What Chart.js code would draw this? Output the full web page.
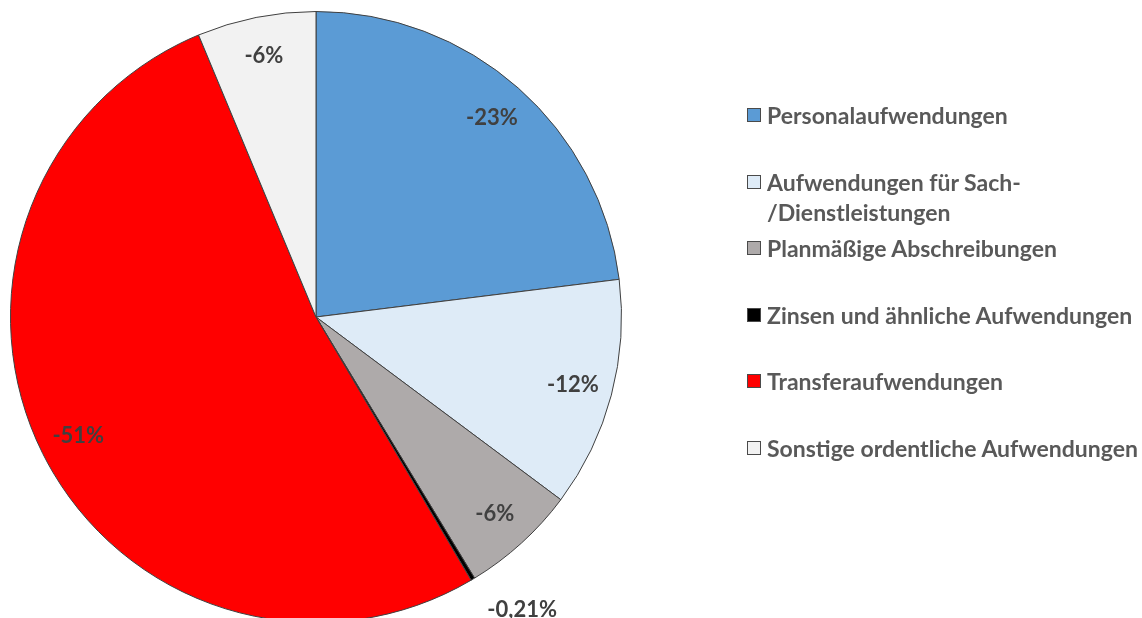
<!DOCTYPE html>
<html>
<head>
<meta charset="utf-8">
<script src="https://cdn.jsdelivr.net/npm/chart.js@4.4.1/dist/chart.umd.min.js"></script>
<style>
  html, body { margin: 0; padding: 0; background: #fff; overflow: hidden; }
  #wrap { position: relative; width: 1142px; height: 630px; }
  #legend { position: absolute; left: 747px; top: 0; width: 395px; font-family: Lato, sans-serif; font-weight: bold; font-size: 23px; color: #595959; }
  .item { position: absolute; left: 0; display: flex; align-items: flex-start; line-height: 30px; width: 395px; }
  .sw { flex: none; width: 12px; height: 12px; border: 1px solid #4a4a4a; margin-top: 8px; margin-right: 6px; }
</style>
</head>
<body>
<div id="wrap">
  <canvas id="myChart" width="1142" height="630"></canvas>
  <div id="legend"></div>
</div>
<script>
let categories = ['Personalaufwendungen', 'Aufwendungen für Sach-/Dienstleistungen', 'Planmäßige Abschreibungen', 'Zinsen und ähnliche Aufwendungen', 'Transferaufwendungen', 'Sonstige ordentliche Aufwendungen'];
// share of the pie
let shares = [23.03, 12.17, 6.11, 0.21, 52.19, 6.28];
// labels as printed in the picture
let shareLabels = ['-23%', '-12%', '-6%', '-0,21%', '-51%', '-6%'];
let colors = ['#5B9BD5', '#DEEBF7', '#AEAAAA', '#000000', '#FF0000', '#F2F2F2'];

const sliceLabels = {
  id: 'sliceLabels',
  afterDatasetsDraw(chart) {
    let ctx = chart.ctx;
    let meta = chart.getDatasetMeta(0);
    ctx.save();
    ctx.font = 'bold 22px Lato';
    ctx.fillStyle = '#404040';
    ctx.textAlign = 'center';
    ctx.textBaseline = 'middle';
    meta.data.forEach((arc, i) => {
      let p = arc.getProps(['x', 'y', 'startAngle', 'endAngle', 'outerRadius'], true);
      let px, py;
      if (p.endAngle - p.startAngle < 0.05) {
        // too thin, put it outside next to the edge
        px = p.x + Math.cos(p.endAngle) * p.outerRadius + 51;
        py = p.y + Math.sin(p.endAngle) * p.outerRadius + 30;
      } else {
        let mid = (p.startAngle + p.endAngle) / 2;
        let r = p.outerRadius * 0.87;
        px = p.x + Math.cos(mid) * r;
        py = p.y + Math.sin(mid) * r;
      }
      ctx.fillText(shareLabels[i], px, py);
    });
    ctx.restore();
  }
};

let ctx = document.getElementById('myChart').getContext('2d');
let myChart = new Chart(ctx, {
  type: 'pie',
  data: {
    labels: categories,
    datasets: [{
      data: shares,
      backgroundColor: colors,
      borderColor: '#404040',
      borderWidth: 1
    }]
  },
  options: {
    responsive: false,
    animation: false,
    layout: { padding: { left: 10, top: 11, right: 520, bottom: 7 } },
    plugins: {
      legend: { display: false },
      tooltip: { enabled: false }
    }
  },
  plugins: [sliceLabels]
});

// legend on the right
let legend = document.getElementById('legend');
categories.forEach((name, i) => {
  let item = document.createElement('div');
  item.className = 'item';
  item.style.top = (100 + i * 66.6) + 'px';
  let sw = document.createElement('span');
  sw.className = 'sw';
  sw.style.background = colors[i];
  let txt = document.createElement('span');
  // allow the break after "Sach-" like the original
  txt.textContent = name.replace('-/', '-\u200B/');
  item.appendChild(sw);
  item.appendChild(txt);
  legend.appendChild(item);
});
</script>
</body>
</html>
